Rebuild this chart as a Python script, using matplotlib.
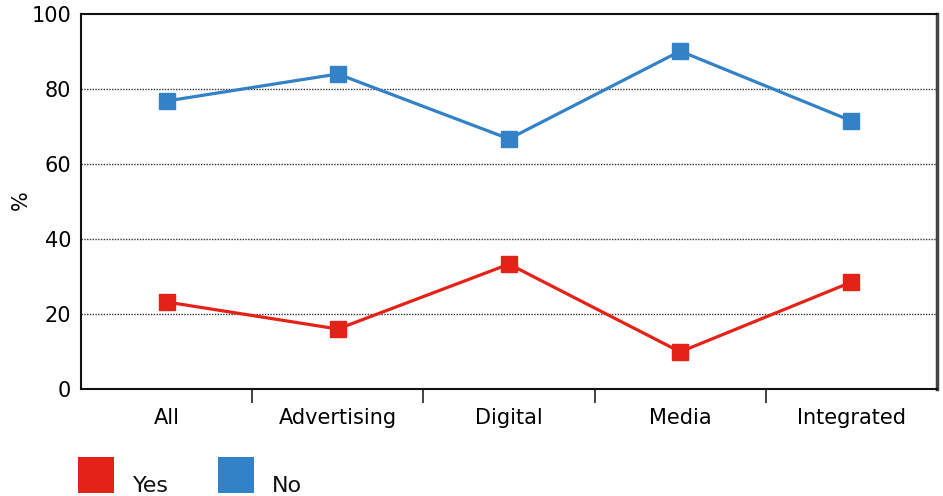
import matplotlib
matplotlib.use("Agg")
import matplotlib.pyplot as plt
from matplotlib.patches import Rectangle

categories = ["All", "Advertising", "Digital", "Media", "Integrated"]
yes_values = [23.2, 16.0, 33.3, 9.9, 28.5]
no_values = [76.8, 84.0, 66.7, 90.1, 71.5]
y_ticks = [0, 20, 40, 60, 80, 100]
series_names = ["Yes", "No"]

red = "#e42218"
blue = "#3381c6"

plt.rcParams['font.family'] = ['DejaVu Sans']

W, H = 943, 496
fig = plt.figure(figsize=(W/100, H/100), dpi=100)
ax = fig.add_axes([81/W, 1-389/H, (937-81)/W, (389-14)/H])

x = list(range(len(categories)))
ax.plot(x, yes_values, color=red, lw=2.3, marker='s', ms=12, mec=red, mfc=red, zorder=3)
ax.plot(x, no_values, color=blue, lw=2.3, marker='s', ms=12, mec=blue, mfc=blue, zorder=3)

ax.set_xlim(-0.5, len(categories) - 0.5)
ax.set_ylim(0, 100)
ax.set_yticks(y_ticks)
ax.set_yticklabels([str(v) for v in y_ticks], fontsize=15)
ax.set_xticks(x)
ax.set_xticklabels(categories, fontsize=15)
ax.tick_params(axis='x', which='major', length=0, pad=14)
ax.set_xticks([i + 0.5 for i in range(len(categories) - 1)], minor=True)
ax.tick_params(axis='x', which='minor', length=10, width=1.2, color='#222222', direction='out')
ax.tick_params(axis='y', length=0, pad=7)

for v in [20, 40, 60, 80]:
    ax.axhline(v, color='#333333', lw=1.0, ls=(0, (1, 1)), zorder=1)

for s in ['left', 'bottom', 'top']:
    ax.spines[s].set_linewidth(1.5)
    ax.spines[s].set_color('#111111')
ax.spines['right'].set_linewidth(2.5)
ax.spines['right'].set_color('#444444')

ax.set_ylabel('%', fontsize=15)
ax.yaxis.set_label_coords(-50/856, (389-200)/375)

# manual legend
legend_items = [(series_names[0], red, 78, 133), (series_names[1], blue, 218, 272)]
for name, col, sx, tx in legend_items:
    fig.add_artist(Rectangle((sx/W, 1-493/H), 36/W, 36/H, transform=fig.transFigure,
                             facecolor=col, edgecolor='none'))
    fig.text(tx/W, 1-492/H, name, fontsize=16, ha='left', va='baseline', color='#111111')

fig.savefig('out.png', dpi=100)
